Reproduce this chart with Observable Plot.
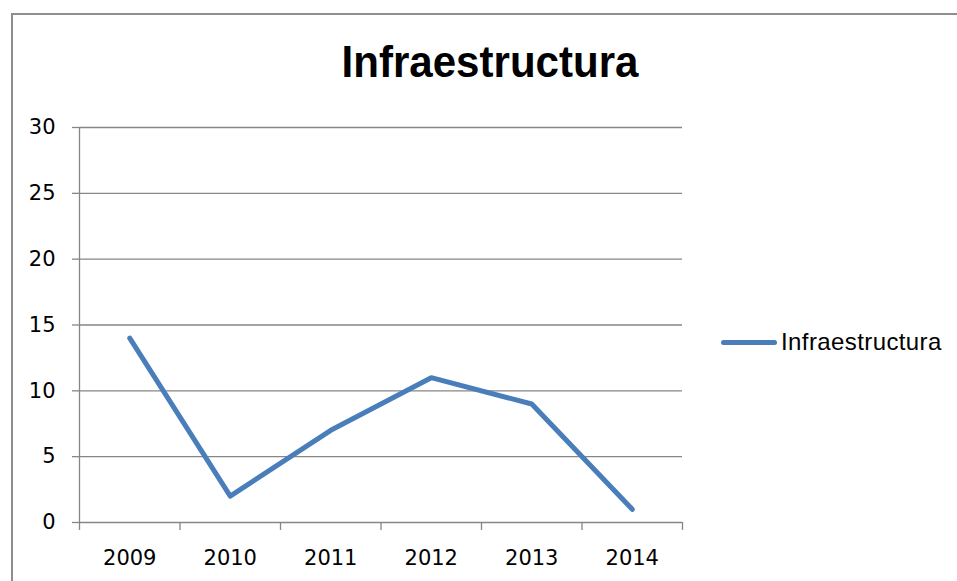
<!DOCTYPE html>
<html>
<head>
<meta charset="utf-8">
<script src="https://cdn.jsdelivr.net/npm/d3@7"></script>
<script src="https://cdn.jsdelivr.net/npm/@observablehq/plot@0.6"></script>
<style>
  html, body { margin: 0; padding: 0; background: #fff; }
  #wrap { position: relative; width: 957px; height: 581px; overflow: hidden; background: #fff; }
  #frame { position: absolute; left: 11px; top: 13px; width: 1000px; height: 700px; border: 2px solid #8e8e8e; box-sizing: border-box; }
  #title { position: absolute; left: 0; width: 980px; top: 35px; text-align: center; font-family: "Liberation Sans", sans-serif; font-weight: bold; font-size: 45px; line-height: 54px; color: #000; transform: scaleX(0.935); transform-origin: 490px 0; }
  #legend { position: absolute; left: 721px; top: 328px; display: flex; align-items: center; font-family: "Liberation Sans", sans-serif; font-size: 24px; letter-spacing: 0.4px; color: #000; }
  #legend .sw { width: 56px; height: 5px; border-radius: 3px; background: #4a7ebb; margin-right: 4px; }
  #chart { position: absolute; left: 0; top: 0; }
</style>
</head>
<body>
<div id="wrap">
  <div id="frame"></div>
  <div id="chart"></div>
  <div id="title">Infraestructura</div>
  <div id="legend"><div class="sw"></div><span>Infraestructura</span></div>
</div>
<script>
const years = [2009, 2010, 2011, 2012, 2013, 2014];
const values = [14, 2, 7, 11, 9, 1];
const yTicks = [0, 5, 10, 15, 20, 25, 30];
const seriesName = "Infraestructura";

const data = years.map((y, i) => ({year: y, value: values[i]}));
const boundaries = [years[0] - 0.5, ...years.map(y => y + 0.5)];
const gray = "#868686";

const chart = Plot.plot({
  width: 957,
  height: 581,
  marginLeft: 79,
  marginRight: 275,
  marginTop: 127,
  marginBottom: 59,
  style: {fontFamily: "DejaVu Sans, sans-serif", fontSize: "21px", color: "#000", background: "transparent", overflow: "visible"},
  x: {domain: [boundaries[0], boundaries[boundaries.length - 1]]},
  y: {domain: [0, 30]},
  marks: [
    Plot.ruleY(yTicks, {stroke: gray, strokeWidth: 1.3, strokeOpacity: 1}),
    Plot.ruleX([boundaries[0]], {y1: 0, y2: 30, stroke: gray, strokeWidth: 1.3}),
    Plot.ruleX(boundaries, {y1: 0, y2: -0.6, stroke: gray, strokeWidth: 1.3, clip: false}),
    Plot.axisY({ticks: yTicks, tickSize: 7, tickPadding: 17, stroke: gray, strokeWidth: 1.3, strokeOpacity: 1, label: null, fill: "#000", fontSize: 21}),
    Plot.axisX({ticks: years, tickFormat: d => String(d), tickSize: 0, tickPadding: 28, label: null, fill: "#000", fontSize: 21}),
    Plot.line(data, {x: "year", y: "value", stroke: "#4a7ebb", strokeWidth: 5, strokeLinecap: "round", strokeLinejoin: "round"})
  ]
});
document.getElementById("chart").appendChild(chart);
</script>
</body>
</html>
